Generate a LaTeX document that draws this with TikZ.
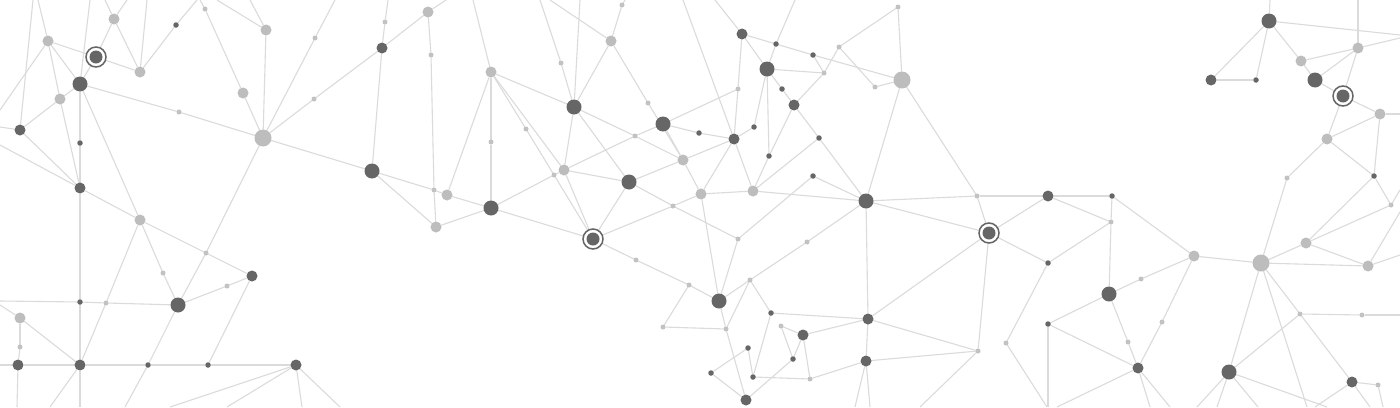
\documentclass[tikz,border=0pt]{standalone}
\usetikzlibrary{backgrounds}
\definecolor{dkc}{HTML}{666666}
\definecolor{ltc}{HTML}{BDBDBD}
\definecolor{slc}{HTML}{C2C2C2}
\definecolor{linec}{HTML}{DBDBDB}
\tikzset{
 edge/.style={draw=linec, line width=1.1pt},
 dot/.style={circle, inner sep=0pt, outer sep=0pt, draw=none},
 dl/.style={dot, fill=dkc, minimum size=15pt},
 dm/.style={dot, fill=dkc, minimum size=11pt},
 ds/.style={dot, fill=dkc, minimum size=5.5pt},
 ll/.style={dot, fill=ltc, minimum size=17pt},
 lm/.style={dot, fill=ltc, minimum size=11pt},
 ls/.style={dot, fill=slc, minimum size=5pt},
 ring/.style={circle, inner sep=0pt, outer sep=0pt, minimum size=20pt, draw=dkc, line width=1.5pt, fill=white,
   path picture={\fill[dkc] (path picture bounding box.center) circle (6.5pt);}}
}
\begin{document}
\begin{tikzpicture}[x=1pt,y=-1pt]
\useasboundingbox (0,0) rectangle (1400,407);
% left
\node[dm] (nA) at (20,130) {};
\node[lm] (nB) at (48,41) {};
\node[ring] (nC) at (96,57) {};
\node[lm] (nD) at (114,19) {};
\node[ds] (nE) at (176,25) {};
\node[ls] (nF) at (205,9) {};
\node[lm] (nG) at (266,30) {};
\node[lm] (nH) at (140,72) {};
\node[dl] (nI) at (80,84) {};
\node[lm] (nJ) at (60,99) {};
\node[lm] (nK) at (243,93) {};
\node[ls] (nL) at (315,38) {};
\node[ls] (nM) at (314,99) {};
\node[ls] (nN) at (179,112) {};
\node[ll] (nO) at (263,138) {};
\node[ds] (nP) at (80,143) {};
\node[dm] (nQ) at (80,188) {};
\node[lm] (nR) at (140,220) {};
\node[ls] (nS) at (206,253) {};
\node[dm] (nT) at (252,276) {};
\node[ls] (nU) at (163,273) {};
\node[dl] (nV) at (178,305) {};
\node[ds] (nW) at (80,302) {};
\node[ls] (nX) at (106,303) {};
\node[lm] (nY) at (20,318) {};
\node[ls] (nZ) at (20,347) {};
\node[dm] (a1) at (18,365) {};
\node[dm] (a2) at (80,365) {};
\node[ds] (a3) at (148,365) {};
\node[ds] (a4) at (208,365) {};
\node[dm] (a5) at (296,365) {};
\node[ls] (a6) at (227,286) {};
% middle left
\node[ls] (b1) at (385,22) {};
\node[lm] (b2) at (428,12) {};
\node[dm] (b3) at (382,48) {};
\node[ls] (b4) at (431,55) {};
\node[lm] (b5) at (491,72) {};
\node[ls] (b6) at (561,63) {};
\node[lm] (b7) at (611,41) {};
\node[ls] (b8) at (622,5) {};
\node[dl] (b9) at (574,107) {};
\node[ls] (c1) at (648,103) {};
\node[dl] (c2) at (663,124) {};
\node[ls] (c3) at (526,129) {};
\node[ls] (c4) at (635,136) {};
\node[ds] (c5) at (699,133) {};
\node[dl] (c6) at (372,171) {};
\node[ls] (c7) at (434,190) {};
\node[lm] (c8) at (447,195) {};
\node[lm] (c9) at (436,227) {};
\node[dl] (d1) at (491,208) {};
\node[ls] (d2) at (491,142) {};
\node[ls] (d3) at (554,175) {};
\node[lm] (d4) at (564,170) {};
\node[dl] (d5) at (629,182) {};
\node[lm] (d6) at (683,160) {};
\node[ls] (d7) at (673,206) {};
\node[lm] (d8) at (701,194) {};
\node[ring] (d9) at (593,239) {};
\node[ls] (e1) at (636,260) {};
\node[ls] (e2) at (689,285) {};
\node[ls] (e3) at (663,327) {};
% middle
\node[dm] (f1) at (742,34) {};
\node[ds] (f2) at (776,44) {};
\node[ds] (f3) at (813,55) {};
\node[ls] (f4) at (839,47) {};
\node[ls] (f5) at (898,7) {};
\node[dl] (f6) at (767,69) {};
\node[ls] (f7) at (824,73) {};
\node[ll] (f8) at (902,80) {};
\node[ls] (f9) at (875,87) {};
\node[ds] (g1) at (782,89) {};
\node[dm] (g2) at (794,105) {};
\node[ls] (g3) at (738,89) {};
\node[ds] (g4) at (754,127) {};
\node[dm] (g5) at (734,139) {};
\node[ds] (g6) at (819,138) {};
\node[ds] (g7) at (769,156) {};
\node[ds] (g8) at (813,176) {};
\node[lm] (g9) at (753,191) {};
\node[dl] (h1) at (866,201) {};
\node[ls] (h2) at (977,196) {};
\node[dm] (h3) at (1048,196) {};
\node[ring] (h4) at (989,233) {};
\node[ls] (h5) at (738,239) {};
\node[ls] (h6) at (807,242) {};
\node[ds] (h7) at (1048,263) {};
\node[ls] (h8) at (750,280) {};
\node[dl] (h9) at (719,301) {};
\node[ls] (i1) at (726,329) {};
\node[ds] (i2) at (771,313) {};
\node[ls] (i3) at (781,326) {};
\node[dm] (i4) at (803,335) {};
\node[dm] (i5) at (868,319) {};
\node[ds] (i6) at (748,348) {};
\node[ds] (i7) at (793,359) {};
\node[ls] (i8) at (810,379) {};
\node[ds] (i9) at (711,373) {};
\node[ds] (j1) at (753,377) {};
\node[dm] (j2) at (746,400) {};
\node[dm] (j3) at (866,361) {};
\node[ls] (j4) at (978,351) {};
\node[ls] (j5) at (1006,343) {};
\node[ds] (j6) at (1048,324) {};
% right
\node[dl] (k1) at (1269,21) {};
\node[dm] (k2) at (1211,80) {};
\node[ds] (k3) at (1256,80) {};
\node[lm] (k4) at (1301,61) {};
\node[lm] (k5) at (1358,48) {};
\node[dl] (k6) at (1315,80) {};
\node[ring] (k7) at (1343,96) {};
\node[lm] (k8) at (1380,114) {};
\node[lm] (k9) at (1327,139) {};
\node[ls] (l1) at (1287,178) {};
\node[ds] (l2) at (1374,176) {};
\node[ls] (l3) at (1391,205) {};
\node[lm] (l4) at (1306,243) {};
\node[ll] (l5) at (1261,263) {};
\node[lm] (l6) at (1194,256) {};
\node[lm] (l7) at (1368,266) {};
\node[ds] (l8) at (1112,196) {};
\node[ls] (l9) at (1111,222) {};
\node[ls] (m1) at (1141,279) {};
\node[dl] (m2) at (1109,294) {};
\node[ls] (m3) at (1162,322) {};
\node[ls] (m4) at (1128,342) {};
\node[dm] (m5) at (1138,368) {};
\node[ls] (m6) at (1300,314) {};
\node[ls] (m7) at (1362,315) {};
\node[dl] (m8) at (1229,372) {};
\node[dm] (m9) at (1352,382) {};
\node[ls] (n1) at (1378,385) {};
% free ends
\coordinate (t1) at (33,0); \coordinate (t2) at (38,0); \coordinate (t3) at (90,0);
\coordinate (t4) at (127,0); \coordinate (t5) at (105,0); \coordinate (t6) at (147,0);
\coordinate (t7) at (197,0); \coordinate (t8) at (200,0); \coordinate (t9) at (217,0);
\coordinate (t10) at (250,0); \coordinate (t11) at (335,0); \coordinate (t12) at (446,0);
\coordinate (t13) at (388,0); \coordinate (t14) at (473,0); \coordinate (t15) at (540,0);
\coordinate (t16) at (580,0); \coordinate (t17) at (550,0); \coordinate (t18) at (625,0);
\coordinate (t19) at (683,0); \coordinate (t20) at (715,0); \coordinate (t21) at (795,0);
\coordinate (t22) at (1270,0); \coordinate (t23) at (1358,0);
\coordinate (L1) at (0,110); \coordinate (L2) at (0,127); \coordinate (L3) at (0,145);
\coordinate (L4) at (0,301); \coordinate (L5) at (0,305); \coordinate (L6) at (0,365);
\coordinate (R1) at (1400,35); \coordinate (R2) at (1400,38); \coordinate (R3) at (1400,114);
\coordinate (R4) at (1400,190); \coordinate (R5) at (1400,212); \coordinate (R6) at (1400,255);
\coordinate (R7) at (1400,315);
\coordinate (B1) at (17,407); \coordinate (B2) at (50,407); \coordinate (B3) at (80,407);
\coordinate (B4) at (125,407); \coordinate (B5) at (170,407); \coordinate (B6) at (227,407);
\coordinate (B7) at (302,407); \coordinate (B8) at (340,407); \coordinate (B9) at (855,407);
\coordinate (B10) at (870,407); \coordinate (B11) at (920,407); \coordinate (B12) at (1047,407);
\coordinate (B13) at (1048,407); \coordinate (B14) at (1057,407); \coordinate (B15) at (1150,407);
\coordinate (B16) at (1170,407); \coordinate (B17) at (1197,407); \coordinate (B18) at (1217,407);
\coordinate (B19) at (1258,407); \coordinate (B20) at (1327,407); \coordinate (B21) at (1307,407);
\coordinate (B22) at (1315,407); \coordinate (B23) at (1370,407); \coordinate (B24) at (1383,407);
\begin{pgfonlayer}{background}
\fill[white] (0,0) rectangle (1400,407);
\foreach \a/\b in {
 nB/nC, nB/nI, nB/nJ, nJ/nQ, nC/nD, nC/nH, nC/nI, nD/nH, nH/nE, nI/nJ, nJ/nA,
 nI/nN, nN/nO, nI/nP, nP/nQ, nI/nR, nA/nQ, nQ/nR, nR/nS, nS/nT, nR/nU, nU/nV,
 nO/nS, nS/nV, nV/a6, a6/nT, nV/a3, nT/a4, nQ/nW, nW/a2, nW/nX, nX/nV, a2/nX,
 nX/nR, nY/nZ, nZ/a1, nY/a2, a1/a2, a2/a3, a3/a4, a4/a5,
 nO/nG, nO/nK, nK/nF, nO/nM, nM/b3, b3/b2, nO/nL, nO/c6,
 b3/b1, b3/c6, b2/b4, b4/c7, c7/c9, c6/c7, c7/c8, c8/d1, c6/c9, c9/d1, c8/b5,
 b5/d2, d2/d1, b5/c3, c3/d9, b5/d4, b5/b9, b9/b6, b9/b7, b7/b8, b7/c1, c1/d6,
 b9/c4, c4/d6, b9/d4, b9/d5, d1/d3, d3/d4, d4/c4, c4/c2, d4/d5, d1/d9, d5/d9,
 d4/d9,
 d5/d6, d5/d7, d7/h5, d9/d7, d7/d8, d6/d8, d6/c2, d6/g5, c2/c5, c5/g5, c2/g3,
 d9/e1, e1/e2, e2/h9, e2/e3, e3/i1,
 f1/f2, f2/f3, f3/f8, f2/f6, f1/f6, f1/g3, g3/g5, f6/f7, f6/g1, g1/g2, f6/g4,
 g4/g5, f6/g7, f3/f7, f7/f4, f4/f5, f5/f8, f4/f9, f9/f8, f7/g2, g2/g6, g2/g7,
 g7/g9, f8/h1, f8/h2, h2/h4, g5/d8, g5/g9, g9/g6, g6/h1, g8/h1, g8/h5, d8/g9,
 g9/h1, h1/h2, h2/h3, h1/h4, h1/h6, h6/h8, h8/h9, h1/i5, d8/h9, h5/h9, h4/h3,
 h4/h7, h4/j4, h4/i5, h8/i2, h8/i1, h9/i1, i1/j2, i2/i5, i2/j1, i3/i4, i3/i7,
 i4/i5, i4/i7, i4/i8, i7/j2, j1/i8, i6/i9, i6/j1, i9/j2, i8/j3, j3/j4, i5/j3,
 i5/j4, j5/h7, h7/l9, h3/l8, h3/l9, l8/l9, l9/m2, l8/l6, l6/m1, m1/m2, m2/j6,
 m2/m4, m4/m5, l6/m3, m3/m5, j6/m5,
 k1/k2, k1/k3, k2/k3, k1/k4, k4/k6, k6/k7, k7/k8, k4/k5, k6/k5, k5/k7, k7/k9,
 k9/k8, k8/l2, k9/l2, k9/l1, l1/l5, l2/l3, l2/l4, l3/l4, l4/l5, l4/l7, l5/l7,
 l5/l6, l5/m8, l5/m6, m6/m9, m6/m7, m6/m8, m9/n1,
 t1/nA, t2/nB, t3/nI, t4/nD, t5/nD, t6/nH, t7/nE, t8/nF, t9/nG, t10/nG, t11/nL,
 t12/b2, t13/b1, t14/b5, t15/b6, t16/b9, t17/b7, t18/b8, t19/g5, t20/f1, t21/f2,
 t22/k1, t23/k5,
 L1/nB, L2/nA, L3/nQ, L4/nW, L5/nY, L6/a1,
 R1/k1, R2/k5, R3/k8, R4/l3, R5/l7, R6/l7, R7/m7,
 B1/a1, B2/a2, B3/a2, B4/a3, B5/a5, B6/a5, B7/a5, B8/a5, B9/j3, B10/j3, B11/j4,
 B12/j5, B13/j6, B14/m5, B15/m5, B16/m5, B17/m8, B18/m8, B19/m8, B20/m8, B21/l5,
 B22/m9, B23/m9, B24/n1}
 \draw[edge] (\a) -- (\b);
\end{pgfonlayer}
\end{tikzpicture}
\end{document}
